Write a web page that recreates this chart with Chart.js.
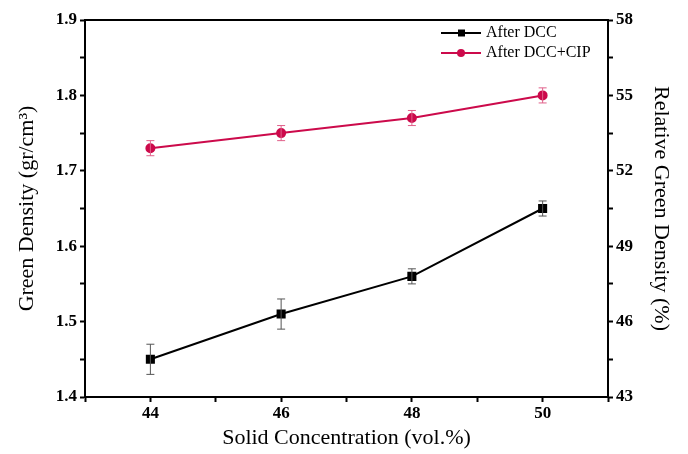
<!DOCTYPE html>
<html lang="en">
<head>
    <meta charset="UTF-8">
    <title>Green Density vs Solid Concentration</title>
    <script src="https://cdn.jsdelivr.net/npm/chart.js"></script>
    <style>
        body {
            margin: 0;
            background-color: #fff;
        }
        #wrap {
            width: 688px;
            height: 454px;
            position: relative;
        }
    </style>
</head>
<body>
    <div id="wrap"><canvas id="chartCanvas"></canvas></div>
    <script>
        // data
        const solidConc = [44, 46, 48, 50];
        const afterDCC = [1.45, 1.51, 1.56, 1.65];
        const afterDCCErr = [0.02, 0.02, 0.01, 0.01];
        const afterCIP = [1.73, 1.75, 1.77, 1.80];
        const afterCIPErr = [0.01, 0.01, 0.01, 0.01];
        const seriesNames = ['After DCC', 'After DCC+CIP'];

        const serif = "'Liberation Serif', 'Times New Roman', serif";
        const red = '#cc0a4b';

        function toPoints(ys) {
            return solidConc.map((x, i) => ({ x: x, y: ys[i] }));
        }

        // error bars drawn through the scales
        const errorBars = {
            id: 'errorBars',
            afterDatasetsDraw(chart) {
                const ctx = chart.ctx;
                const xs = chart.scales.x, ys = chart.scales.y;
                chart.data.datasets.forEach(ds => {
                    ctx.save();
                    ctx.strokeStyle = ds.errColor;
                    ctx.lineWidth = 1;
                    ds.data.forEach((p, i) => {
                        const px = xs.getPixelForValue(p.x);
                        const top = ys.getPixelForValue(p.y + ds.err[i]);
                        const bot = ys.getPixelForValue(p.y - ds.err[i]);
                        ctx.beginPath();
                        ctx.moveTo(px, top); ctx.lineTo(px, bot);
                        ctx.moveTo(px - 4, top); ctx.lineTo(px + 4, top);
                        ctx.moveTo(px - 4, bot); ctx.lineTo(px + 4, bot);
                        ctx.stroke();
                    });
                    ctx.restore();
                });
            }
        };

        // top border of the frame + legend inside the plot
        const frameLegend = {
            id: 'frameLegend',
            afterDraw(chart) {
                const ctx = chart.ctx;
                const a = chart.chartArea;
                ctx.save();
                ctx.strokeStyle = '#000';
                ctx.lineWidth = 2;
                ctx.beginPath();
                ctx.moveTo(a.left - 1, a.top);
                ctx.lineTo(a.right + 1, a.top);
                ctx.stroke();

                ctx.font = '16px ' + serif;
                ctx.textBaseline = 'middle';
                chart.data.datasets.forEach((ds, i) => {
                    const y = a.top + 13 + i * 20;
                    const x0 = a.right - 167;
                    ctx.strokeStyle = ds.borderColor;
                    ctx.lineWidth = 2;
                    ctx.beginPath();
                    ctx.moveTo(x0, y); ctx.lineTo(x0 + 40, y);
                    ctx.stroke();
                    ctx.fillStyle = ds.borderColor;
                    if (ds.pointStyle === 'rect') {
                        ctx.fillRect(x0 + 17, y - 3.5, 7, 7);
                    } else {
                        ctx.beginPath();
                        ctx.arc(x0 + 20, y, 4, 0, Math.PI * 2);
                        ctx.fill();
                    }
                    ctx.fillStyle = '#000';
                    ctx.fillText(seriesNames[i], x0 + 45, y);
                });
                ctx.restore();
            }
        };

        const tickFont = { family: serif, size: 17, weight: 'bold' };
        const titleFont = { family: serif, size: 22 };

        const ctx = document.getElementById('chartCanvas').getContext('2d');
        new Chart(ctx, {
            type: 'line',
            data: {
                datasets: [
                    {
                        label: seriesNames[0],
                        data: toPoints(afterDCC),
                        err: afterDCCErr,
                        errColor: '#555',
                        borderColor: '#000',
                        backgroundColor: '#000',
                        borderWidth: 2,
                        pointStyle: 'rect',
                        pointRadius: 5,
                        yAxisID: 'y'
                    },
                    {
                        label: seriesNames[1],
                        data: toPoints(afterCIP),
                        err: afterCIPErr,
                        errColor: '#e0608a',
                        borderColor: red,
                        backgroundColor: red,
                        borderWidth: 2,
                        pointStyle: 'circle',
                        pointRadius: 4,
                        yAxisID: 'y'
                    }
                ]
            },
            options: {
                responsive: true,
                maintainAspectRatio: false,
                animation: false,
                layout: { padding: { top: 20, left: 0, right: 0, bottom: 0 } },
                plugins: {
                    legend: { display: false },
                    tooltip: { enabled: false }
                },
                scales: {
                    x: {
                        type: 'linear',
                        min: 43,
                        max: 51,
                        afterFit(s) { s.height = 57; },
                        ticks: {
                            stepSize: 1,
                            font: tickFont,
                            color: '#000',
                            padding: 1,
                            maxRotation: 0,
                            autoSkip: false,
                            callback: v => (v % 2 === 0 && v >= 44 && v <= 50) ? v : ''
                        },
                        grid: { drawOnChartArea: false, tickLength: 5, tickColor: '#000', tickWidth: 2 },
                        border: { color: '#000', width: 2 },
                        title: { display: true, text: 'Solid Concentration (vol.%)', font: titleFont, color: '#000', padding: { top: 2, bottom: 3 } }
                    },
                    y: {
                        position: 'left',
                        min: 1.4,
                        max: 1.9,
                        afterFit(s) { s.width = 85; },
                        ticks: {
                            stepSize: 0.05,
                            font: tickFont,
                            color: '#000',
                            padding: 3,
                            autoSkip: false,
                            callback: v => {
                                const t = Math.round(v * 100);
                                return t % 10 === 0 ? (t / 100).toFixed(1) : '';
                            }
                        },
                        grid: { drawOnChartArea: false, tickLength: 5, tickColor: '#000', tickWidth: 2 },
                        border: { color: '#000', width: 2 },
                        title: { display: true, text: 'Green Density (gr/cm\u00b3)', font: titleFont, color: '#000', padding: { top: 14, bottom: 0 } }
                    },
                    y2: {
                        position: 'right',
                        min: 43,
                        max: 58,
                        afterFit(s) { s.width = 80; },
                        ticks: {
                            stepSize: 1.5,
                            font: tickFont,
                            color: '#000',
                            padding: 3,
                            autoSkip: false,
                            callback: v => (Math.abs(v - Math.round(v)) < 1e-6 && Math.round(v) % 3 === 1) ? Math.round(v) : ''
                        },
                        grid: { drawOnChartArea: false, tickLength: 5, tickColor: '#000', tickWidth: 2 },
                        border: { color: '#000', width: 2 },
                        title: { display: true, text: 'Relative Green Density (%)', font: titleFont, color: '#000', padding: { top: 14, bottom: 0 } }
                    }
                }
            },
            plugins: [errorBars, frameLegend]
        });
    </script>
</body>
</html>
